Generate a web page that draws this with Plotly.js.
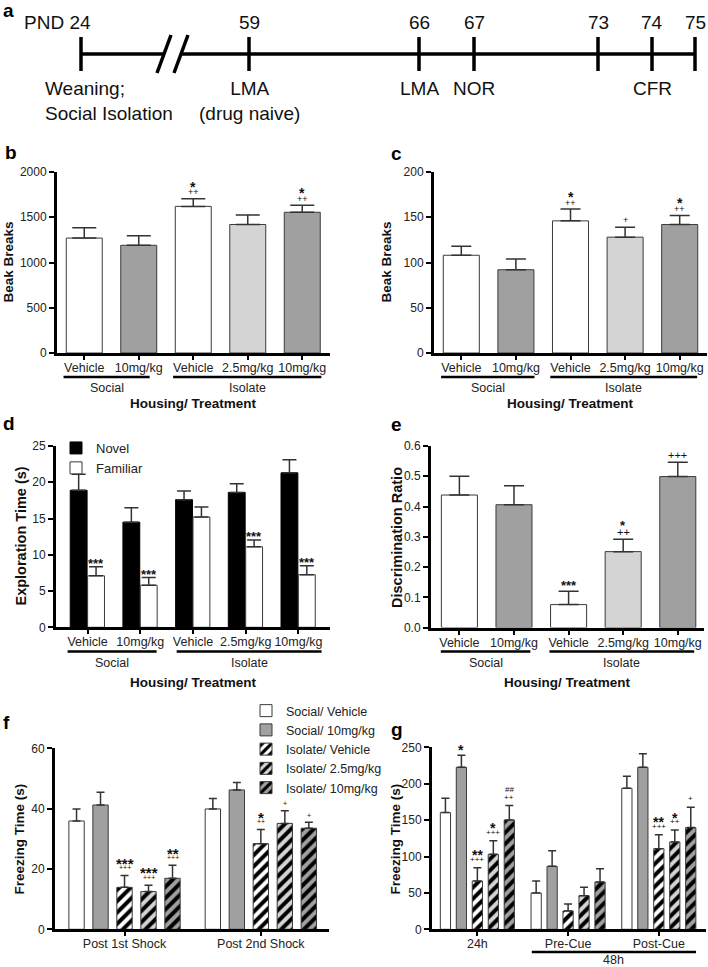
<!DOCTYPE html>
<html>
<head>
<meta charset="utf-8">
<script src="https://cdn.plot.ly/plotly-3.0.1.min.js"></script>
<style>
  html, body { margin: 0; padding: 0; background: #fff; }
  #fig { width: 708px; height: 967px; }
</style>
</head>
<body>
<div id="fig"></div>
<script>
// ---- data ----
var timelineDays = ['PND 24', '59', '66', '67', '73', '74', '75'];
var timelineEvents = ['Weaning;<br>Social Isolation', 'LMA<br>(drug naive)', 'LMA', 'NOR', '', 'CFR', ''];

var treatments = ['Vehicle', '10mg/kg', 'Vehicle', '2.5mg/kg', '10mg/kg'];
var housingGroups = ['Social', 'Isolate'];

var beakB = [1270, 1190, 1620, 1420, 1555];
var beakBErr = [115, 105, 85, 105, 78];
var bStars = ['', '', '*', '', '*'];
var bPlus = ['', '', '++', '', '++'];

var beakC = [108, 92, 146, 128, 142];
var beakCErr = [10, 12, 13, 11, 10];
var cStars = ['', '', '*', '', '*'];
var cPlus = ['', '', '++', '+', '++'];

var novel = [18.9, 14.5, 17.6, 18.6, 21.3];
var novelErr = [2.2, 2.0, 1.2, 1.2, 1.8];
var familiar = [7.1, 5.8, 15.2, 11.1, 7.25];
var familiarErr = [1.25, 1.05, 1.4, 0.95, 1.25];
var dStars = ['***', '***', '', '***', '***'];

var discRatio = [0.438, 0.406, 0.076, 0.251, 0.499];
var discRatioErr = [0.062, 0.063, 0.044, 0.041, 0.047];
var eStars = ['', '', '***', '*', ''];
var ePlus = ['', '', '', '++', '+++'];

var cfrGroups = ['Social/ Vehicle', 'Social/ 10mg/kg', 'Isolate/ Vehicle', 'Isolate/ 2.5mg/kg', 'Isolate/ 10mg/kg'];

var shockPhases = ['Post 1st Shock', 'Post 2nd Shock'];
var freezeShock = [[35.9, 39.9], [41.2, 46.2], [13.9, 28.4], [12.5, 35.1], [16.9, 33.5]];
var freezeShockErr = [[4.0, 3.5], [4.2, 2.5], [3.9, 4.7], [2.1, 4.2], [4.3, 2.0]];
var fStars = [['', ''], ['', ''], ['***', '*'], ['***', ''], ['**', '']];
var fPlus = [['', ''], ['', ''], ['+++', '++'], ['+++', '+'], ['+++', '+']];

var cueTests = ['24h', 'Pre-Cue', 'Post-Cue'];
var freezeCue = [[160.3, 49.9, 193.7], [222.5, 86.5, 222.5], [66.4, 25.2, 110.8], [103, 46.2, 120], [150.2, 65, 139.7]];
var freezeCueErr = [[19.7, 16.5, 16.5], [16.5, 21.5, 18.8], [18.3, 9.6, 19.2], [18.8, 11.5, 16.4], [19.7, 18.3, 27.9]];
var gStars = [['', '', ''], ['*', '', ''], ['**', '', '**'], ['*', '', '*'], ['##', '', '']];
var gPlus = [['', '', ''], ['', '', ''], ['+++', '', '+++'], ['+++', '', '++'], ['++', '', '+']];

// ---- layout helpers ----
var W = 708, H = 967;
var FONT = 'Liberation Sans, Arial, sans-serif';
function px(v) { return v / W; }
function py(v) { return 1 - v / H; }
function idx(arr) { return arr.map(function (d, i) { return i; }); }
function zeros(arr) { return arr.map(function () { return 0; }); }

var treatFill = ['#ffffff', '#a0a0a0', '#ffffff', '#d4d4d4', '#a0a0a0'];
var cfrFill = ['#ffffff', '#a0a0a0', '#ffffff', '#d4d4d4', '#a0a0a0'];
var cfrHatch = [false, false, true, true, true];
var EDGE = '#3a3a3a';

function valueAxis(top, bottom, range, dtick, anchor, fmt) {
    return {
        domain: [py(bottom), py(top)], range: range, dtick: dtick, tick0: 0, anchor: anchor,
        showline: true, linewidth: 3, linecolor: '#000',
        ticks: 'outside', ticklen: 5, tickwidth: 2, tickcolor: '#000',
        showgrid: false, zeroline: false, tickformat: fmt || '',
        tickfont: {size: 12, color: '#222'}
    };
}

function catAxis(left, right, range, anchor, labels) {
    return {
        domain: [px(left), px(right)], range: range, anchor: anchor,
        tickmode: 'array', tickvals: idx(labels), ticktext: labels,
        showline: true, linewidth: 3, linecolor: '#000',
        ticks: 'outside', ticklen: 4, tickwidth: 2, tickcolor: '#000',
        ticklabelstandoff: -3,
        showgrid: false, zeroline: false,
        tickfont: {size: 12.5, color: '#222'}
    };
}

function errBar(err, capw) {
    return {type: 'data', symmetric: false, array: err, arrayminus: zeros(err),
            color: '#333', thickness: 1.5, width: capw};
}

var annotations = [];
var shapes = [];

function sigMarks(xref, yref, xs, tops, stars, plus, st) {
    for (var i = 0; i < xs.length; i++) {
        if (plus[i]) {
            annotations.push({xref: xref, yref: yref, x: xs[i], y: tops[i], text: plus[i],
                showarrow: false, yanchor: 'middle', yshift: plus[i].length === 1 && !stars[i] ? st.plusAlone : st.plusShift,
                font: {size: st.plusSize, color: '#111'}});
        }
        if (stars[i]) {
            var hash = stars[i].indexOf('#') >= 0;
            annotations.push({xref: xref, yref: yref, x: xs[i], y: tops[i], text: stars[i],
                showarrow: false, yanchor: 'middle',
                yshift: hash ? st.hashShift : (plus[i] ? st.starShift : st.starAlone),
                font: {size: hash ? st.plusSize : st.starSize, weight: hash ? 'normal' : 'bold', color: '#111'}});
        }
    }
}

function addTops(v, e) { return v.map(function (d, i) { return d + e[i]; }); }

function groupLabels(xref, spans, lineY, textY) {
    housingGroups.forEach(function (g, i) {
        shapes.push({type: 'line', xref: xref, yref: 'paper', x0: spans[i][0], x1: spans[i][1],
                     y0: py(lineY), y1: py(lineY), line: {color: '#000', width: 2.5}});
        annotations.push({xref: xref, yref: 'paper', x: (spans[i][0] + spans[i][1]) / 2, y: py(textY),
                          text: g, showarrow: false, yanchor: 'middle', font: {size: 12.5, color: '#222'}});
    });
}

function xTitle(xref, text, y) {
    annotations.push({xref: xref, yref: 'paper', x: 0.5, y: py(y), text: text, showarrow: false,
                      yanchor: 'middle', font: {size: 13.5, weight: 'bold', color: '#111'}});
}

function yTitle(x, y, text, size) {
    annotations.push({xref: 'paper', yref: 'paper', x: px(x), y: py(y), text: text, textangle: -90,
                      showarrow: false, xanchor: 'center', yanchor: 'middle',
                      font: {size: size, weight: 'bold', color: '#111'}});
}

function panelLetter(x, y, letter) {
    annotations.push({xref: 'paper', yref: 'paper', x: px(x), y: py(y), text: letter, showarrow: false,
                      xanchor: 'left', yanchor: 'middle', font: {size: 19, weight: 'bold', color: '#000'}});
}

var traces = [];

// ---- panel a: timeline (schematic positions in px) ----
var timelinePos = [81, 249, 419, 474, 598, 652, 695];
var LINE_Y = 54, TICK_TOP = 37, TICK_BOT = 71, BREAK_L = 164, BREAK_R = 181;
var tlX = [], tlY = [];
timelinePos.forEach(function (p) { tlX.push(p, p, null); tlY.push(TICK_TOP, TICK_BOT, null); });
traces.push({type: 'scatter', mode: 'lines', xaxis: 'x', yaxis: 'y', showlegend: false, hoverinfo: 'skip',
    x: [timelinePos[0], BREAK_L, null, BREAK_R, timelinePos[timelinePos.length - 1]].concat([null]).concat(tlX)
        .concat([BREAK_L - 7, BREAK_L + 7, null, BREAK_R - 7, BREAK_R + 7]),
    y: [LINE_Y, LINE_Y, null, LINE_Y, LINE_Y].concat([null]).concat(tlY)
        .concat([LINE_Y + 19, LINE_Y - 19, null, LINE_Y + 19, LINE_Y - 19]),
    line: {color: '#000', width: 3.5}});

timelineDays.forEach(function (d, i) {
    annotations.push({xref: 'x', yref: 'y', x: i === 0 ? timelinePos[i] + 12 : timelinePos[i], y: 22, text: d,
        showarrow: false, xanchor: i === 0 ? 'right' : 'center', yanchor: 'middle',
        font: {size: 19, color: '#111'}});
    if (timelineEvents[i]) {
        annotations.push({xref: 'x', yref: 'y', x: i === 0 ? timelinePos[i] - 38 : timelinePos[i], y: 76,
            text: timelineEvents[i], showarrow: false, xanchor: i === 0 ? 'left' : 'center',
            align: i === 0 ? 'left' : 'center', yanchor: 'top', font: {size: 19, color: '#111'}});
    }
});
panelLetter(1, 10, 'a');

// ---- panel b ----
traces.push({type: 'bar', x: idx(beakB), y: beakB, xaxis: 'x2', yaxis: 'y2', width: 0.66, offset: -0.33,
    marker: {color: treatFill, line: {color: EDGE, width: 1}}, error_y: errBar(beakBErr, 12),
    showlegend: false, hoverinfo: 'skip'});
sigMarks('x2', 'y2', idx(beakB), addTops(beakB, beakBErr), bStars, bPlus,
    {plusSize: 9, plusShift: 6.5, plusAlone: 7, starSize: 14, starShift: 12, starAlone: 5});
groupLabels('x2', [[-0.38, 1.2], [1.63, 4.35]], 377, 387.5);
xTitle('x2 domain', 'Housing/ Treatment', 403);
yTitle(8, 262.5, 'Beak Breaks', 13.5);
panelLetter(3, 152, 'b');

// ---- panel c ----
traces.push({type: 'bar', x: idx(beakC), y: beakC, xaxis: 'x3', yaxis: 'y3', width: 0.66, offset: -0.33,
    marker: {color: treatFill, line: {color: EDGE, width: 1}}, error_y: errBar(beakCErr, 10),
    showlegend: false, hoverinfo: 'skip'});
sigMarks('x3', 'y3', idx(beakC), addTops(beakC, beakCErr), cStars, cPlus,
    {plusSize: 9, plusShift: 6.5, plusAlone: 7, starSize: 14, starShift: 12, starAlone: 5});
groupLabels('x3', [[-0.37, 1.34], [1.63, 4.32]], 377, 387.5);
xTitle('x3 domain', 'Housing/ Treatment', 403);
yTitle(386, 262.5, 'Beak Breaks', 13.5);
panelLetter(389, 153, 'c');

// ---- panel d ----
traces.push({type: 'bar', name: 'Novel', x: idx(novel), y: novel, xaxis: 'x4', yaxis: 'y4', width: 0.32, offset: -0.33,
    marker: {color: '#000', line: {color: '#000', width: 1}}, error_y: errBar(novelErr, 7),
    legend: 'legend', hoverinfo: 'skip'});
traces.push({type: 'bar', name: 'Familiar', x: idx(familiar), y: familiar, xaxis: 'x4', yaxis: 'y4', width: 0.32, offset: 0,
    marker: {color: '#ffffff', line: {color: EDGE, width: 1}}, error_y: errBar(familiarErr, 7),
    legend: 'legend', hoverinfo: 'skip'});
sigMarks('x4', 'y4', idx(familiar).map(function (i) { return i + 0.16; }), addTops(familiar, familiarErr),
    dStars, dStars.map(function () { return ''; }),
    {plusSize: 9, plusShift: 6.5, plusAlone: 7, starSize: 13, starShift: 12, starAlone: 3.5});
groupLabels('x4', [[-0.38, 1.31], [1.69, 4.44]], 651.5, 663);
xTitle('x4 domain', 'Housing/ Treatment', 682);
yTitle(20, 536.5, 'Exploration Time (s)', 14.5);
panelLetter(1, 424, 'd');

// ---- panel e ----
traces.push({type: 'bar', x: idx(discRatio), y: discRatio, xaxis: 'x5', yaxis: 'y5', width: 0.66, offset: -0.33,
    marker: {color: treatFill, line: {color: EDGE, width: 1}}, error_y: errBar(discRatioErr, 10),
    showlegend: false, hoverinfo: 'skip'});
sigMarks('x5', 'y5', idx(discRatio), addTops(discRatio, discRatioErr), eStars, ePlus,
    {plusSize: 11, plusShift: 7.5, plusAlone: 7.5, starSize: 13, starShift: 13.5, starAlone: 5.5});
groupLabels('x5', [[-0.34, 1.3], [1.65, 4.3]], 651.5, 663);
xTitle('x5 domain', 'Housing/ Treatment', 682);
yTitle(396.5, 537.5, 'Discrimination Ratio', 14.5);
panelLetter(389, 425, 'e');

// ---- panels f and g: one trace per group ----
var SLOT = 0.88 / 5;
cfrGroups.forEach(function (name, k) {
    var marker = {color: cfrFill[k], line: {color: EDGE, width: 1}};
    if (cfrHatch[k]) {
        marker.pattern = {shape: '/', fgcolor: '#000', bgcolor: cfrFill[k], size: 8, solidity: 0.5, fillmode: 'replace'};
    }
    traces.push({type: 'bar', name: name, x: idx(shockPhases), y: freezeShock[k], xaxis: 'x6', yaxis: 'y6',
        marker: marker, error_y: errBar(freezeShockErr[k], 4), legend: 'legend2', hoverinfo: 'skip'});
    traces.push({type: 'bar', name: name, x: idx(cueTests), y: freezeCue[k], xaxis: 'x7', yaxis: 'y7',
        marker: marker, error_y: errBar(freezeCueErr[k], 4), showlegend: false, hoverinfo: 'skip'});
    sigMarks('x6', 'y6', idx(shockPhases).map(function (i) { return i + (k - 2) * SLOT; }),
        addTops(freezeShock[k], freezeShockErr[k]), fStars[k], fPlus[k],
        {plusSize: 7, plusShift: 8, plusAlone: 7, starSize: 15, starShift: 12.3, starAlone: 5, hashShift: 15.7});
    sigMarks('x7', 'y7', idx(cueTests).map(function (i) { return i + (k - 2) * SLOT; }),
        addTops(freezeCue[k], freezeCueErr[k]), gStars[k], gPlus[k],
        {plusSize: 8, plusShift: 8.4, plusAlone: 8.5, starSize: 14, starShift: 12.5, starAlone: 5, hashShift: 15.7});
});
yTitle(18.5, 839, 'Freezing Time (s)', 13.5);
panelLetter(1, 722, 'f');
yTitle(394.5, 839, 'Freezing Time (s)', 13.5);
panelLetter(389, 729, 'g');
shapes.push({type: 'line', xref: 'x7', yref: 'paper', x0: 0.6, x1: 2.41, y0: py(952), y1: py(952),
             line: {color: '#000', width: 2.5}});
annotations.push({xref: 'x7', yref: 'paper', x: 1.505, y: py(960), text: '48h', showarrow: false,
                  yanchor: 'middle', font: {size: 12.5, color: '#222'}});

var layout = {
    width: W, height: H,
    margin: {l: 0, r: 0, t: 0, b: 0},
    paper_bgcolor: '#fff', plot_bgcolor: 'rgba(0,0,0,0)',
    font: {family: FONT, color: '#222'},
    hovermode: false,
    barmode: 'group', bargap: 0.12, bargroupgap: 0.36,
    xaxis: {domain: [0, 1], range: [0, W], visible: false, anchor: 'y'},
    yaxis: {domain: [py(130), 1], range: [130, 0], visible: false, anchor: 'x'},
    xaxis2: catAxis(57, 329.5, [-0.5, 4.5], 'y2', treatments),
    yaxis2: valueAxis(172, 353, [0, 2000], 500, 'x2'),
    xaxis3: catAxis(434, 707, [-0.5, 4.5], 'y3', treatments),
    yaxis3: valueAxis(172, 353, [0, 200], 50, 'x3'),
    xaxis4: catAxis(56, 330, [-0.6, 4.6], 'y4', treatments),
    yaxis4: valueAxis(446, 627.3, [0, 25], 5, 'x4'),
    xaxis5: catAxis(431, 704, [-0.52, 4.48], 'y5', treatments),
    yaxis5: valueAxis(446, 627.6, [0, 0.6], 0.1, 'x5', '.1f'),
    xaxis6: catAxis(55, 329, [-0.51, 1.5], 'y6', shockPhases),
    yaxis6: valueAxis(748.3, 929.3, [0, 60], 20, 'x6'),
    xaxis7: catAxis(432, 706, [-0.5, 2.52], 'y7', cueTests),
    yaxis7: valueAxis(747.3, 929.3, [0, 250], 50, 'x7'),
    legend: {x: px(56), y: py(433), xanchor: 'left', yanchor: 'top', bgcolor: 'rgba(0,0,0,0)',
             font: {size: 13, color: '#222'}, tracegroupgap: 0},
    legend2: {x: px(246), y: py(696), xanchor: 'left', yanchor: 'top', bgcolor: 'rgba(0,0,0,0)',
              font: {size: 12.5, color: '#222'}, tracegroupgap: 0},
    annotations: annotations,
    shapes: shapes
};

Plotly.newPlot('fig', traces, layout, {staticPlot: true});
</script>
</body>
</html>
